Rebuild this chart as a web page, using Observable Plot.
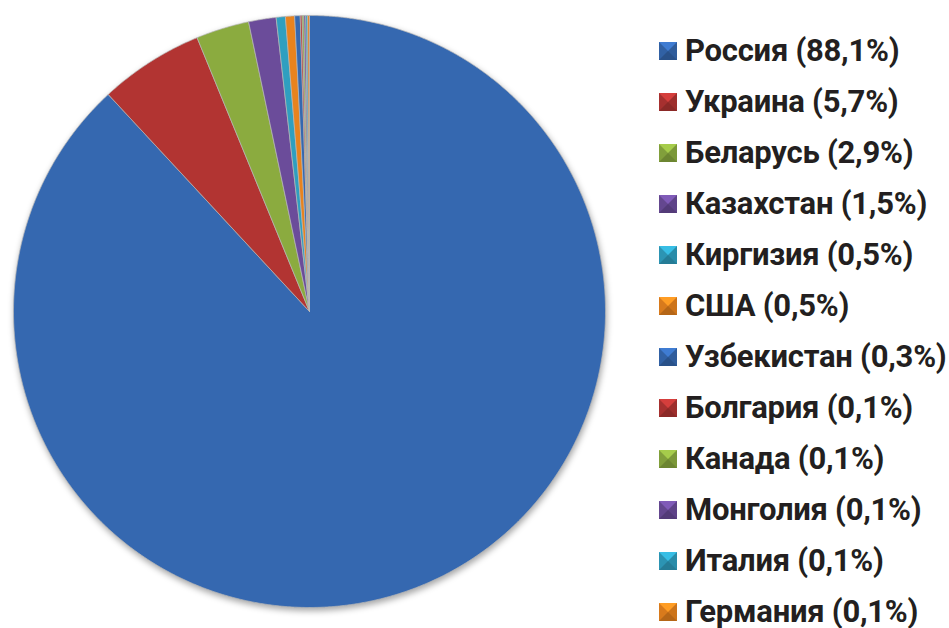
<!DOCTYPE html>
<html><head><meta charset="utf-8">
<script src="https://cdn.jsdelivr.net/npm/d3@7"></script>
<script src="https://cdn.jsdelivr.net/npm/@observablehq/plot@0.6"></script>
<style>
body{margin:0;background:#fff;}
#wrap{position:relative;width:949px;height:628px;overflow:hidden;background:#fff;}
#chart{position:absolute;left:0;top:0;}
#chart svg{filter:drop-shadow(1px 3px 3px rgba(0,0,0,0.35));}
#legend{position:absolute;left:659px;top:25px;font-family:Roboto,"Liberation Sans",sans-serif;font-weight:bold;font-size:31px;line-height:30px;color:#231f20;letter-spacing:-0.25px;}
.row{height:51px;display:flex;align-items:center;white-space:nowrap;}
.sw{width:0;height:0;border-style:solid;border-width:9px;margin-right:8px;flex:none;}
</style></head><body><div id="wrap"><div id="chart"></div><div id="legend"></div></div>
<script>
const countries = ["Россия","Украина","Беларусь","Казахстан","Киргизия","США","Узбекистан","Болгария","Канада","Монголия","Италия","Германия"];
const shares = [88.1,5.7,2.9,1.5,0.5,0.5,0.3,0.1,0.1,0.1,0.1,0.1];
const shareLabels = ["88,1%","5,7%","2,9%","1,5%","0,5%","0,5%","0,3%","0,1%","0,1%","0,1%","0,1%","0,1%"];
const palette = ["#3568b0","#b23432","#8bab3f","#6b4c9a","#2f9fc0","#e8831e"];

const colors = countries.map((c,i)=>palette[i%palette.length]);
const data = countries.map((c,i)=>({country:c, share:shares[i]}));
const arcs = d3.pie().sort(null).value(d=>d.share)(data);
const rows = [];
for (const a of arcs) {
  const n = Math.max(2, Math.ceil((a.endAngle-a.startAngle)/0.004));
  rows.push({country:a.data.country, x:0, y:0});
  for (let k=0;k<=n;k++){
    const t = a.startAngle + (a.endAngle-a.startAngle)*k/n;
    rows.push({country:a.data.country, x:Math.sin(t), y:Math.cos(t)});
  }
  rows.push({country:a.data.country, x:0, y:0});
}

const R = 296, CX = 309, CY = 311;
const chart = Plot.plot({
  width: 640, height: 628,
  margin: 0,
  x: {domain:[-1,1], range:[CX-R, CX+R], axis:null},
  y: {domain:[-1,1], range:[CY+R, CY-R], axis:null},
  color: {domain: countries, range: colors},
  marks: [
    Plot.line(rows, {x:"x", y:"y", z:"country", fill:"country", stroke:"#b8b8b8", strokeOpacity:0.8, strokeWidth:0.9, curve:"linear"})
  ]
});
document.getElementById("chart").appendChild(chart);

const legend = document.getElementById("legend");
countries.forEach((c,i)=>{
  const col = d3.color(colors[i]);
  const row = document.createElement("div");
  row.className = "row";
  const sw = document.createElement("span");
  sw.className = "sw";
  sw.style.borderTopColor = col.brighter(0.5).formatHex();
  sw.style.borderBottomColor = col.darker(0.7).formatHex();
  sw.style.borderLeftColor = col.darker(0.2).formatHex();
  sw.style.borderRightColor = col.darker(0.35).formatHex();
  const tx = document.createElement("span");
  tx.textContent = `${c} (${shareLabels[i]})`;
  row.appendChild(sw); row.appendChild(tx);
  legend.appendChild(row);
});
</script></body></html>
